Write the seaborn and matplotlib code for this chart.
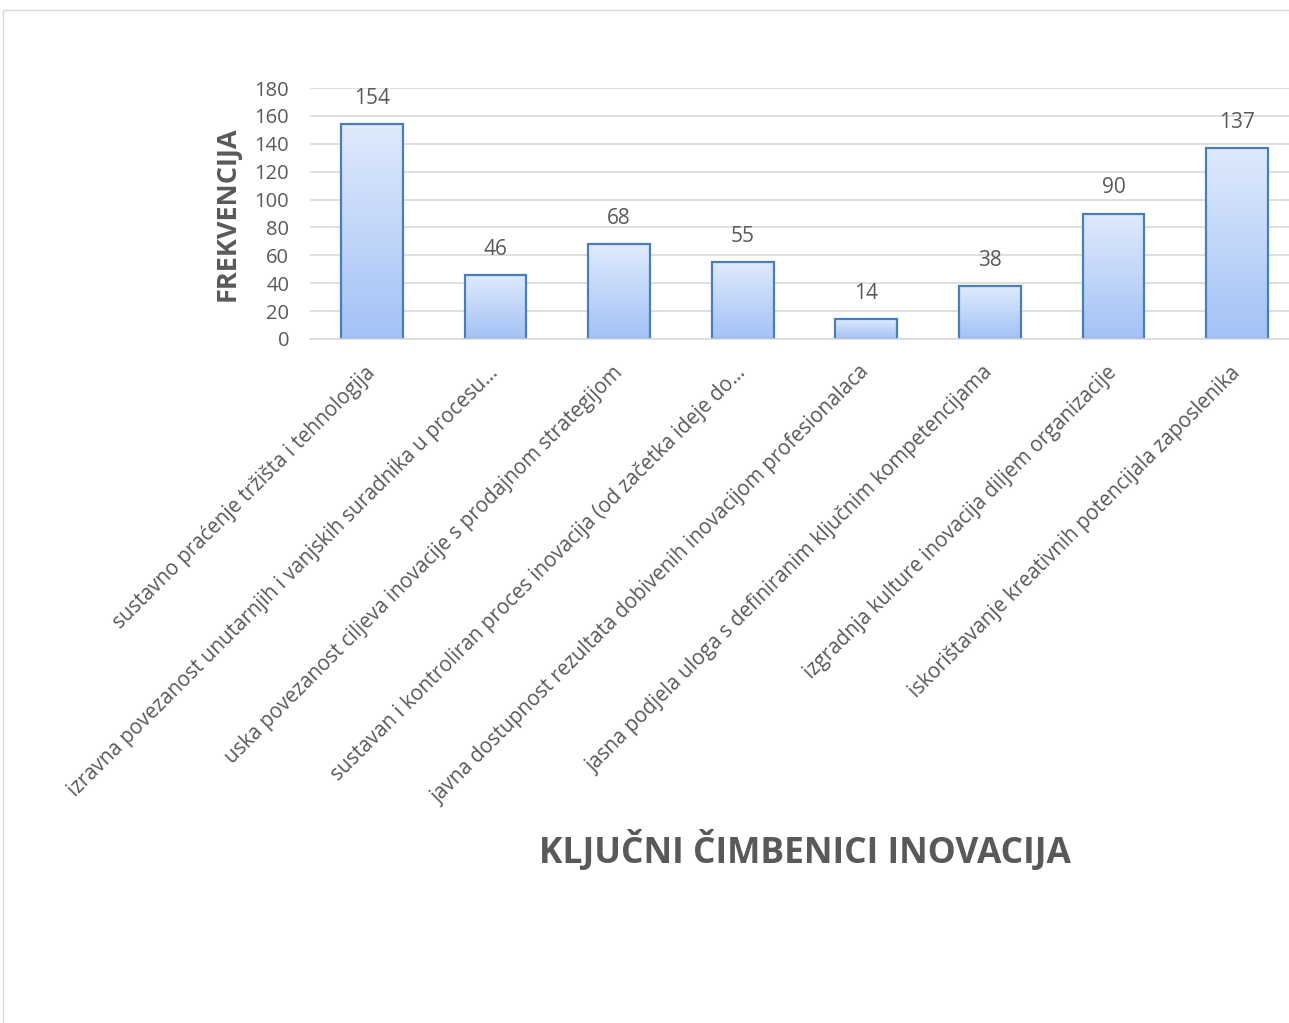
import numpy as np
import pandas as pd
import matplotlib
matplotlib.use("Agg")
import matplotlib.pyplot as plt
from matplotlib.colors import LinearSegmentedColormap
from matplotlib.patches import Rectangle
import seaborn as sns

categories = [
    "sustavno praćenje tržišta i tehnologija",
    "izravna povezanost unutarnjih i vanjskih suradnika u procesu…",
    "uska povezanost ciljeva inovacije s prodajnom strategijom",
    "sustavan i kontroliran proces inovacija (od začetka ideje do…",
    "javna dostupnost rezultata dobivenih inovacijom profesionalaca",
    "jasna podjela uloga s definiranim ključnim kompetencijama",
    "izgradnja kulture inovacija diljem organizacije",
    "iskorištavanje kreativnih potencijala zaposlenika",
]
frequencies = [154, 46, 68, 55, 14, 38, 90, 137]
y_ticks = [0, 20, 40, 60, 80, 100, 120, 140, 160, 180]

df = pd.DataFrame({"kategorija": categories, "frekvencija": frequencies})

sns.set_theme(style="white")
plt.rcParams["font.family"] = ["Open Sans", "DejaVu Sans"]

TEXT = "#595959"
GRID = "#d9d9d9"
EDGE = "#4a7ebb"

W, H = 1289, 1023
fig = plt.figure(figsize=(W / 100, H / 100), dpi=100)
fig.patch.set_facecolor("white")

# thin frame around the chart area
fig.patches.append(Rectangle((3 / W, -0.05), 1.1, (H - 10) / H + 0.05,
                             transform=fig.transFigure, fill=False,
                             edgecolor="#d9d9d9", linewidth=1.0))

left, right = 310, 1299
top, bottom = 88, 339
ax = fig.add_axes([left / W, (H - bottom) / H, (right - left) / W, (bottom - top) / H])
ax.set_facecolor("none")

sns.barplot(data=df, x="kategorija", y="frekvencija", ax=ax, width=0.5,
            color="#c5d9f8", edgecolor=EDGE, linewidth=1.6, saturation=1)

# vertical gradient inside each bar
cmap = LinearSegmentedColormap.from_list("bar", ["#a3c2f6", "#dfeafc"])
grad = np.linspace(0, 1, 256).reshape(-1, 1)
for p in ax.patches:
    x0, w, h = p.get_x(), p.get_width(), p.get_height()
    ax.imshow(grad, extent=[x0, x0 + w, 0, h], origin="lower", cmap=cmap,
              aspect="auto", zorder=1.9, interpolation="bicubic")
    p.set_facecolor("none")
    p.set_zorder(2)

ax.set_xlim(-0.5, len(categories) - 0.5)
ax.set_ylim(0, 180)
ax.set_yticks(y_ticks)
ax.yaxis.grid(True, color=GRID, linewidth=1.2)
ax.set_axisbelow(True)
for s in ["left", "right", "top"]:
    ax.spines[s].set_visible(False)
ax.spines["bottom"].set_color(GRID)
ax.spines["bottom"].set_linewidth(1.2)
ax.tick_params(axis="both", length=0)
ax.tick_params(axis="y", labelsize=14.5, labelcolor=TEXT, pad=15)

ax.set_xticks(range(len(categories)))
ax.set_xticklabels(categories, rotation=45, ha="right", va="center",
                   rotation_mode="anchor", fontsize=14.8, color=TEXT)
ax.tick_params(axis="x", pad=22)

for c in ax.containers:
    ax.bar_label(c, labels=[str(v) for v in frequencies], padding=11,
                 fontsize=15, color=TEXT)

ax.set_ylabel("FREKVENCIJA", fontsize=19.5, fontweight="bold", color=TEXT, labelpad=10)
ax.set_xlabel("")
fig.text(805 / W, 1 - 852 / H, "KLJUČNI ČIMBENICI INOVACIJA", ha="center", va="center",
         fontsize=25.5, fontweight="bold", color=TEXT)

fig.savefig("out.png", dpi=100, facecolor="white")
